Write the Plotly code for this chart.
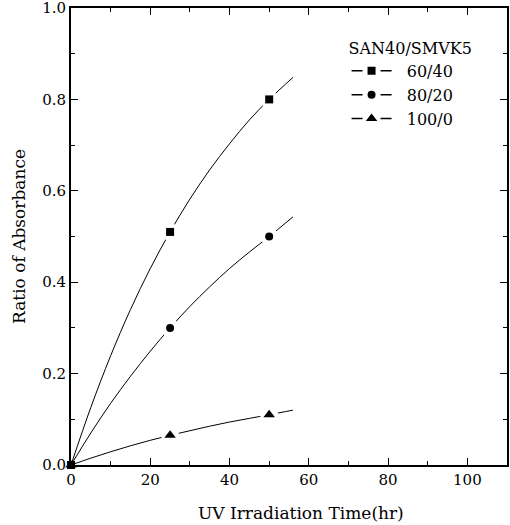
import plotly.graph_objects as go

# measured points
time_pts = [0, 25, 50]
ratio_6040 = [0.0, 0.51, 0.80]
ratio_8020 = [0.0, 0.30, 0.50]
ratio_1000 = [0.0, 0.065, 0.11]

# fitted curves
curve_x = [0, 5, 10, 15, 20, 25, 30, 35, 40, 45, 50, 56]
curve_6040 = [0.0, 0.126, 0.239, 0.340, 0.430, 0.51, 0.582, 0.646, 0.703, 0.755, 0.80, 0.848]
curve_8020 = [0.0, 0.070, 0.135, 0.194, 0.249, 0.30, 0.347, 0.390, 0.430, 0.466, 0.50, 0.543]
curve_1000 = [0.0, 0.015, 0.029, 0.042, 0.054, 0.065, 0.075, 0.085, 0.094, 0.102, 0.11, 0.120]

series = [
    ("60/40", ratio_6040, curve_6040, "square", 8),
    ("80/20", ratio_8020, curve_8020, "circle", 8),
    ("100/0", ratio_1000, curve_1000, "triangle-up", 10),
]

x_title = "UV Irradiation Time(hr)"
y_title = "Ratio of Absorbance"
legend_title = "SAN40/SMVK5"

FONT = "DejaVu Serif"
NBSP = "\u00a0"
fig = go.Figure()

for name, pts, curve, sym, sz in series:
    fig.add_trace(go.Scatter(x=curve_x, y=curve, mode="lines", line=dict(color="black", width=1, shape="spline"),
                             showlegend=False, hoverinfo="skip"))
for name, pts, curve, sym, sz in series:
    fig.add_trace(go.Scatter(x=time_pts[1:], y=pts[1:], mode="markers",
                             marker=dict(symbol="circle", size=18, color="white"),
                             showlegend=False, hoverinfo="skip"))
for name, pts, curve, sym, sz in reversed(series):
    fig.add_trace(go.Scatter(x=time_pts, y=pts, mode="markers", cliponaxis=False,
                             marker=dict(symbol=sym, size=sz, color="black"),
                             showlegend=False))
for name, pts, curve, sym, sz in series:
    fig.add_trace(go.Scatter(x=[None], y=[None], mode="lines+markers", name=NBSP * 2 + name,
                             line=dict(color="black", width=1.5, dash="11px,18px,11px"),
                             marker=dict(symbol=sym, size=sz, color="black")))
# helper trace for top/right tick axes
fig.add_trace(go.Scatter(x=[None], y=[None], xaxis="x2", yaxis="y2", showlegend=False, hoverinfo="skip"))

tickfont = dict(family=FONT, size=15, color="black")
common = dict(showgrid=False, zeroline=False, automargin=False,
              ticks="inside", ticklen=7, tickwidth=1.3, tickcolor="black")
minor_x = dict(dtick=10, ticks="inside", ticklen=4, tickcolor="black", tickwidth=1)
minor_y = dict(dtick=0.1, ticks="inside", ticklen=4, tickcolor="black", tickwidth=1)

fig.update_layout(
    template="none",
    width=510, height=525,
    margin=dict(l=71, r=3, t=8, b=60),
    paper_bgcolor="white", plot_bgcolor="white",
    xaxis=dict(range=[0, 110], tick0=0, dtick=20, showline=True, linecolor="black", linewidth=2, mirror=True,
               minor=minor_x, tickfont=tickfont, ticklabeloverflow="allow",
               **common),
    yaxis=dict(range=[0, 1.0], tick0=0, dtick=0.2, tickformat=".1f", showline=True, linecolor="black", linewidth=2, mirror=True,
               minor=minor_y, tickfont=tickfont, ticklabeloverflow="allow",
               title=dict(text=y_title, font=dict(family=FONT, size=17, color="black"), standoff=12),
               **common),
    xaxis2=dict(range=[0, 110], tick0=0, dtick=20, overlaying="x", side="top", showticklabels=False,
                minor=minor_x, **common),
    yaxis2=dict(range=[0, 1.0], tick0=0, dtick=0.2, overlaying="y", side="right", showticklabels=False,
                minor=minor_y, **common),
    annotations=[dict(text=x_title, xref="paper", yref="paper", x=0.5275, y=-0.106,
                      xanchor="center", yanchor="middle", showarrow=False,
                      font=dict(family=FONT, size=17, color="black"))],
    legend=dict(x=0.632, y=0.945, xanchor="left", yanchor="top",
                title=dict(text=legend_title, font=dict(family=FONT, size=16, color="black")),
                font=dict(family=FONT, size=16, color="black"),
                bgcolor="rgba(0,0,0,0)", tracegroupgap=0, itemwidth=40),
    showlegend=True,
)

fig.write_html("out.html")
